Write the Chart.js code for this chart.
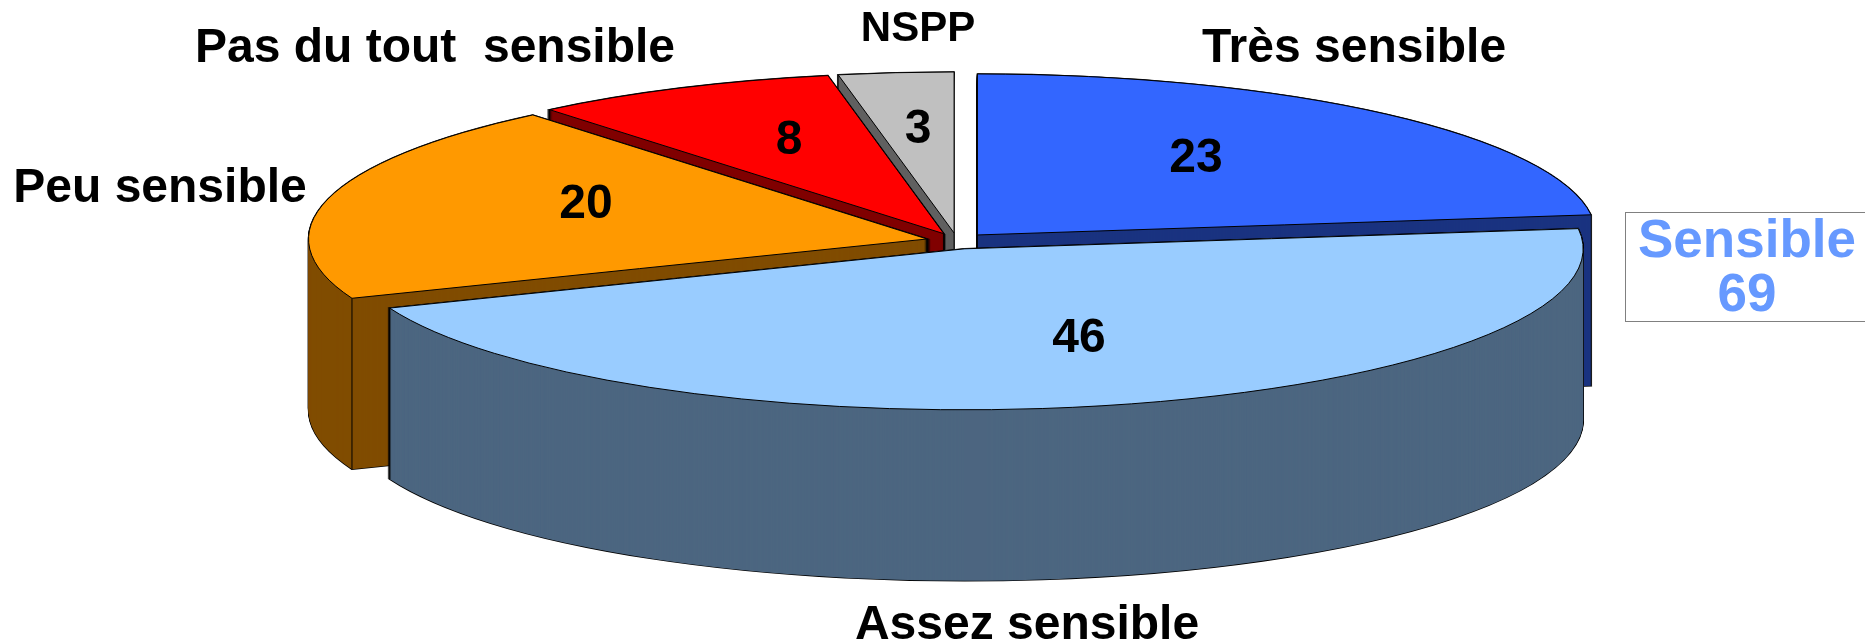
<!DOCTYPE html>
<html lang="fr">
<head>
<meta charset="utf-8">
<title>Sensible</title>
<script src="https://cdn.jsdelivr.net/npm/chart.js@4/dist/chart.umd.min.js"></script>
<style>
    html, body { margin: 0; padding: 0; background: #fff; overflow: hidden; }
    canvas { display: block; }
</style>
</head>
<body>
<canvas id="pie" width="1865" height="643"></canvas>
<script>
const categories = ['Très sensible', 'Assez sensible', 'Peu sensible', 'Pas du tout  sensible', 'NSPP'];
const values = [23, 46, 20, 8, 3];
const totalLabel = 'Sensible';
const totalValue = 69;

const topColors = ['#3366ff', '#99ccff', '#ff9900', '#ff0000', '#c0c0c0'];
const sideColors = ['#1a3380', '#4c6680', '#804c00', '#800000', '#606060'];
const sideOrder = [4, 0, 3, 2, 1];

// text anchors: [centre x, baseline y, font px]
const categoryAnchors = [[1354, 62, 48], [1027, 639, 48], [160, 202, 48], [435, 62, 48], [918, 41, 42]];
const valueAnchors = [[1196, 172], [1079, 352], [586, 218], [789, 154], [918, 143]];

const baseRadius = 300;
const centerX = 957;
const centerY = 241;
const radiusX = 618.5;
const radiusY = 161;
const explode = 0.05;
const depth = 171;
const font = '"Liberation Sans", Arial, sans-serif';

function midAngle(arc) {
    return (arc.startAngle + arc.endAngle) / 2;
}

function sliceCenter(arc) {
    const mid = midAngle(arc);
    return {
        x: centerX + explode * radiusX * Math.cos(mid),
        y: centerY + explode * radiusY * Math.sin(mid)
    };
}

// squash the flat library arc onto the tilted ellipse
function drawTilted(ctx, arc, dy, color) {
    const c = sliceCenter(arc);
    const original = arc.options;
    ctx.save();
    ctx.translate(c.x, c.y + dy);
    ctx.scale(radiusX / baseRadius, radiusY / baseRadius);
    ctx.translate(-arc.x, -arc.y);
    arc.options = Object.create(original, { backgroundColor: { value: color } });
    arc.draw(ctx);
    arc.options = original;
    ctx.restore();
}

function traceOutline(ctx, arc, dy) {
    const c = sliceCenter(arc);
    ctx.beginPath();
    ctx.moveTo(c.x, c.y + dy);
    ctx.ellipse(c.x, c.y + dy, radiusX, radiusY, 0, arc.startAngle, arc.endAngle);
    ctx.closePath();
}

function verticalEdge(ctx, x, y) {
    ctx.beginPath();
    ctx.moveTo(x, y);
    ctx.lineTo(x, y + depth);
    ctx.stroke();
}

function drawSide(ctx, arc, index) {
    ctx.strokeStyle = '#000';
    ctx.lineWidth = 1.5;
    for (let dy = depth; dy >= 0; dy--) {
        traceOutline(ctx, arc, dy);
        ctx.stroke();
    }
    for (let dy = depth; dy >= 0; dy--) {
        drawTilted(ctx, arc, dy, sideColors[index]);
    }
    const c = sliceCenter(arc);
    ctx.lineWidth = 1;
    if (Math.sin(midAngle(arc)) < 0) {
        verticalEdge(ctx, c.x, c.y);
    }
    // the light blue slice has no cut face in front, its end is already the silhouette
    if (Math.sin(midAngle(arc)) < 0) {
        [arc.startAngle, arc.endAngle].forEach(function (angle) {
            if (Math.sin(angle) > 0) {
                verticalEdge(ctx, c.x + radiusX * Math.cos(angle), c.y + radiusY * Math.sin(angle));
            }
        });
    }
}

const tiltedPie = {
    id: 'tiltedPie',
    beforeDatasetDraw: function (chart) {
        const ctx = chart.ctx;
        const arcs = chart.getDatasetMeta(0).data;
        sideOrder.forEach(function (i) {
            drawSide(ctx, arcs[i], i);
        });
        sideOrder.forEach(function (i) {
            drawTilted(ctx, arcs[i], 0, topColors[i]);
            traceOutline(ctx, arcs[i], 0);
            ctx.strokeStyle = '#000';
            ctx.lineWidth = 1;
            ctx.stroke();
        });
        return false;
    },
    afterDraw: function (chart) {
        const ctx = chart.ctx;
        ctx.save();
        ctx.textAlign = 'center';
        ctx.textBaseline = 'alphabetic';
        ctx.fillStyle = '#000';
        categories.forEach(function (name, i) {
            ctx.font = 'bold ' + categoryAnchors[i][2] + 'px ' + font;
            ctx.fillText(name, categoryAnchors[i][0], categoryAnchors[i][1]);
        });
        ctx.font = 'bold 48px ' + font;
        values.forEach(function (value, i) {
            ctx.fillText(String(value), valueAnchors[i][0], valueAnchors[i][1]);
        });
        ctx.fillStyle = '#fff';
        ctx.strokeStyle = '#808080';
        ctx.lineWidth = 1;
        ctx.fillRect(1625.5, 212.5, 245, 109);
        ctx.strokeRect(1625.5, 212.5, 245, 109);
        ctx.fillStyle = '#6699ff';
        ctx.font = 'bold 53px ' + font;
        ctx.fillText(totalLabel, 1747, 257);
        ctx.fillText(String(totalValue), 1747, 311);
        ctx.restore();
    }
};

new Chart(document.getElementById('pie').getContext('2d'), {
    type: 'pie',
    data: {
        labels: categories,
        datasets: [
            {
                data: values,
                backgroundColor: topColors,
                borderWidth: 0
            }
        ]
    },
    options: {
        responsive: false,
        animation: false,
        radius: baseRadius,
        plugins: {
            legend: { display: false },
            tooltip: { enabled: false }
        }
    },
    plugins: [tiltedPie]
});
</script>
</body>
</html>
